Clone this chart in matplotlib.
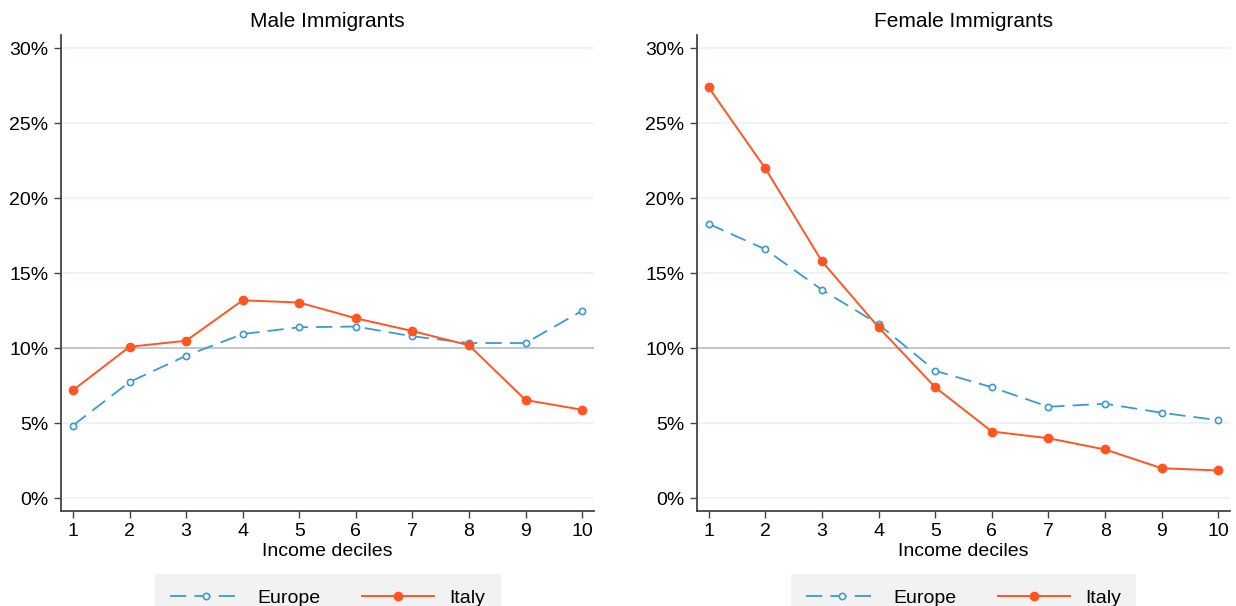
import matplotlib
matplotlib.use('Agg')
import matplotlib.pyplot as plt
from matplotlib.ticker import FuncFormatter

plt.rcParams['font.family'] = ['Liberation Sans', 'DejaVu Sans']

deciles = [1, 2, 3, 4, 5, 6, 7, 8, 9, 10]

# share of immigrants in each income decile (%)
male_europe = [4.85, 7.75, 9.5, 10.95, 11.4, 11.45, 10.8, 10.35, 10.35, 12.5]
male_italy = [7.2, 10.1, 10.5, 13.2, 13.05, 12.0, 11.15, 10.2, 6.55, 5.9]

female_europe = [18.3, 16.6, 13.9, 11.6, 8.5, 7.4, 6.1, 6.3, 5.7, 5.2]
female_italy = [27.4, 22.0, 15.8, 11.4, 7.4, 4.45, 4.0, 3.25, 2.0, 1.85]

titles = ['Male Immigrants', 'Female Immigrants']
y_ticks = [0, 5, 10, 15, 20, 25, 30]

blue = '#3a9bcf'
orange = '#ff5522'


def draw_panel(ax, europe, italy, title):
    for t in y_ticks:
        if t == 10:
            ax.axhline(t, color='#c4c8c8', lw=1.5, zorder=1)
        else:
            ax.axhline(t, color='#eaf2f4', lw=1.2, zorder=1)

    ax.plot(deciles, europe, color=blue, lw=1.3, dashes=(9, 4.5),
            marker='o', ms=4.5, mfc='white', mec=blue, mew=1.2,
            label='Europe', zorder=3)
    ax.plot(deciles, italy, color=orange, lw=1.4,
            marker='o', ms=6, mfc=orange, mec=orange,
            label='Italy', zorder=4)

    ax.set_xlim(0.79, 10.21)
    ax.set_ylim(-0.83, 30.89)
    ax.set_xticks(deciles)
    ax.set_yticks(y_ticks)
    ax.yaxis.set_major_formatter(FuncFormatter(lambda v, p: '%d%%' % v))

    for s in ['top', 'right']:
        ax.spines[s].set_visible(False)
    for s in ['left', 'bottom']:
        ax.spines[s].set_color('#444444')
        ax.spines[s].set_linewidth(1.3)

    ax.tick_params(axis='both', direction='out', length=5, width=1,
                   color='#444444', labelsize=14, pad=4)
    ax.set_title(title, fontsize=15, pad=5.5)
    ax.set_xlabel('Income deciles', fontsize=14, labelpad=2)

    leg = ax.legend(loc='upper center', bbox_to_anchor=(0.5, -0.133),
                    ncol=2, fontsize=14, frameon=True, fancybox=False,
                    handlelength=3.7, handletextpad=0.8, columnspacing=2.1,
                    borderpad=0.8, borderaxespad=0)
    leg.get_frame().set_facecolor('#f2f2f2')
    leg.get_frame().set_edgecolor('none')
    leg.get_frame().set_alpha(1)


fig = plt.figure(figsize=(12.36, 6.06), dpi=100)
ax1 = fig.add_axes([0.0494, 0.1573, 0.4312, 0.7849])
ax2 = fig.add_axes([0.5637, 0.1573, 0.4317, 0.7849])

draw_panel(ax1, male_europe, male_italy, titles[0])
draw_panel(ax2, female_europe, female_italy, titles[1])

fig.savefig('out.png', dpi=100)
